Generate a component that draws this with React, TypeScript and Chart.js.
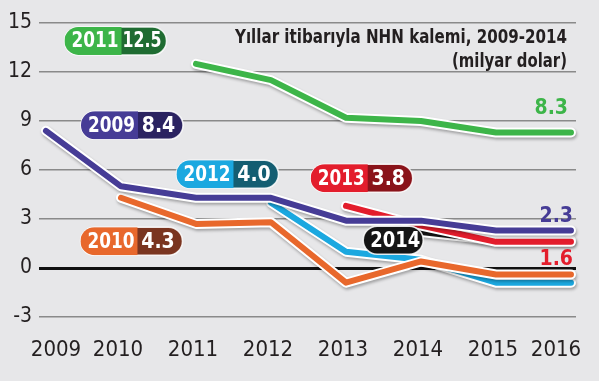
import React, { useEffect, useRef } from 'react';
import { Chart, registerables } from 'chart.js';

Chart.register(...registerables);

// ---------- data ----------
const categories = ['2009', '2010', '2011', '2012', '2013', '2014', '2015', '2016'];
const vintage2009 = [8.4, 5.0, 4.3, 4.3, 2.9, 2.9, 2.3, 2.3];
const vintage2010 = [null, 4.3, 2.7, 2.8, -0.9, 0.4, -0.4, -0.4];
const vintage2011 = [null, null, 12.5, 11.5, 9.2, 9.0, 8.3, 8.3];
const vintage2012 = [null, null, null, 4.0, 1.0, 0.5, -0.9, -0.9];
const vintage2013 = [null, null, null, null, 3.8, 2.6, 1.6, 1.6];
const vintage2014 = [null, null, null, null, null, 2.2, 1.7, 1.7];
const yTicks = [-3, 0, 3, 6, 9, 12, 15];
const titleLines = ['Yıllar itibarıyla NHN kalemi, 2009-2014', '(milyar dolar)'];

const NARROW = '"Liberation Sans Narrow", "DejaVu Sans Condensed", "Arial Narrow", sans-serif';

type Series = {
  name: string;
  data: (number | null)[];
  color: string;
  dark: string;
  order: number;
  badgeValue: string;
  badgeAt: [number, number]; // in data units (x index, y value)
  endLabel?: string;
  endOffset?: [number, number];
};

const series: Series[] = [
  { name: '2009', data: vintage2009, color: '#463c96', dark: '#2b2361', order: 0, badgeValue: '8.4', badgeAt: [1.147, 8.74], endLabel: '2.3', endOffset: [2, -8] },
  { name: '2013', data: vintage2013, color: '#e31d2c', dark: '#8a131a', order: 1, badgeValue: '3.8', badgeAt: [4.21, 5.5], endLabel: '1.6', endOffset: [2, 23] },
  { name: '2014', data: vintage2014, color: '#151515', dark: '#1c1c1c', order: 2, badgeValue: '', badgeAt: [4.63, 1.7] },
  { name: '2010', data: vintage2010, color: '#e8682c', dark: '#7a3520', order: 3, badgeValue: '4.3', badgeAt: [1.14, 1.64] },
  { name: '2012', data: vintage2012, color: '#1ba8e0', dark: '#145e72', order: 4, badgeValue: '4.0', badgeAt: [2.42, 5.74] },
  { name: '2011', data: vintage2011, color: '#3db549', dark: '#1f6c32', order: 5, badgeValue: '12.5', badgeAt: [0.927, 13.9], endLabel: '8.3', endOffset: [-3, -18] },
];

function pillPath(ctx: CanvasRenderingContext2D, x: number, y: number, w: number, h: number, r: number) {
  ctx.beginPath();
  ctx.moveTo(x + r, y);
  ctx.lineTo(x + w - r, y);
  ctx.arc(x + w - r, y + r, r, -Math.PI / 2, Math.PI / 2);
  ctx.lineTo(x + r, y + h);
  ctx.arc(x + r, y + r, r, Math.PI / 2, (3 * Math.PI) / 2);
  ctx.closePath();
}

const outlinePlugin = {
  id: 'whiteOutline',
  beforeDatasetDraw(chart: any, args: any) {
    const pts = args.meta.data;
    if (!pts || !pts.length) return;
    const ctx = chart.ctx as CanvasRenderingContext2D;
    ctx.save();
    ctx.beginPath();
    pts.forEach((p: any, i: number) => (i ? ctx.lineTo(p.x, p.y) : ctx.moveTo(p.x, p.y)));
    ctx.lineJoin = 'round';
    ctx.lineCap = 'round';
    ctx.strokeStyle = '#ffffff';
    ctx.lineWidth = 10;
    ctx.shadowColor = 'rgba(0,0,0,0.3)';
    ctx.shadowBlur = 3;
    ctx.shadowOffsetX = 1;
    ctx.shadowOffsetY = 2;
    ctx.stroke();
    ctx.restore();
  },
};

const decorPlugin = {
  id: 'decor',
  afterDraw(chart: any) {
    const ctx = chart.ctx as CanvasRenderingContext2D;
    const xs = chart.scales.x;
    const ys = chart.scales.y;
    const area = chart.chartArea;

    // x-axis labels
    ctx.save();
    ctx.font = `22px ${NARROW}`;
    ctx.fillStyle = '#231f20';
    ctx.textAlign = 'center';
    ctx.textBaseline = 'alphabetic';
    categories.forEach((c, i) => {
      let cx = xs.getPixelForValue(i) - 3;
      cx = Math.max(area.left + 17, Math.min(area.right - 20, cx));
      ctx.fillText(c, cx, 356);
    });
    ctx.restore();

    // title
    ctx.save();
    ctx.font = `bold 19px ${NARROW}`;
    ctx.fillStyle = '#231f20';
    ctx.textAlign = 'right';
    ctx.fillText(titleLines[0], 567, 43, 332);
    ctx.fillText(titleLines[1], 567, 67, 115);
    ctx.restore();

    // end labels
    chart.data.datasets.forEach((ds: any, di: number) => {
      const s = series[di];
      if (!s.endLabel) return;
      const meta = chart.getDatasetMeta(di);
      const last = meta.data[meta.data.length - 1];
      ctx.save();
      ctx.font = `bold 21px ${NARROW}`;
      ctx.fillStyle = s.color;
      ctx.textAlign = 'right';
      ctx.fillText(s.endLabel, last.x + s.endOffset![0], last.y + s.endOffset![1]);
      ctx.restore();
    });

    // badges
    series.forEach((s) => {
      const cx = xs.getPixelForValue(s.badgeAt[0]);
      const cy = ys.getPixelForValue(s.badgeAt[1]);
      const h = 28;
      const lw = s.badgeValue ? 57 : 60;
      const rw = s.badgeValue ? 45 : 0;
      const w = lw + rw;
      const x = cx - w / 2;
      const y = cy - h / 2;
      ctx.save();
      pillPath(ctx, x, y, w, h, h / 2);
      ctx.fillStyle = s.badgeValue ? s.dark : s.color;
      ctx.fill();
      ctx.lineWidth = 1.5;
      ctx.strokeStyle = 'rgba(255,255,255,0.85)';
      ctx.stroke();
      if (s.badgeValue) {
        ctx.save();
        pillPath(ctx, x, y, w, h, h / 2);
        ctx.clip();
        ctx.fillStyle = s.color;
        ctx.fillRect(x, y, lw, h);
        ctx.restore();
      }
      ctx.font = `bold 21px ${NARROW}`;
      ctx.fillStyle = '#ffffff';
      ctx.textAlign = 'center';
      ctx.textBaseline = 'middle';
      ctx.fillText(s.name, x + lw / 2 + 2, cy + 1, lw - 10);
      if (s.badgeValue) ctx.fillText(s.badgeValue, x + lw + rw / 2 - 2, cy + 1, rw - 6);
      ctx.restore();
    });
  },
};

export default function App() {
  const ref = useRef<HTMLCanvasElement | null>(null);

  useEffect(() => {
    if (!ref.current) return;
    const chart = new Chart(ref.current, {
      type: 'line',
      data: {
        datasets: series.map((s) => ({
          label: s.name,
          data: s.data
            .map((v, i) => (v === null ? null : { x: i, y: v }))
            .filter((p) => p !== null) as { x: number; y: number }[],
          borderColor: s.color,
          backgroundColor: s.color,
          borderWidth: 6,
          borderCapStyle: 'round',
          borderJoinStyle: 'round',
          pointRadius: 0,
          tension: 0,
          order: s.order,
          clip: false as any,
        })),
      },
      options: {
        animation: false,
        responsive: false,
        devicePixelRatio: 1,
        layout: { padding: { left: 0, right: 23, top: 23, bottom: 64 } },
        plugins: { legend: { display: false }, tooltip: { enabled: false } },
        scales: {
          x: { type: 'linear', min: -0.093, max: 7.067, display: false },
          y: {
            min: -3,
            max: 15,
            afterFit: (scale: any) => {
              scale.width = 39;
            },
            afterBuildTicks: (scale: any) => {
              scale.ticks = yTicks.map((v) => ({ value: v }));
            },
            border: { display: false },
            grid: {
              drawTicks: false,
              color: (c: any) => (c.tick && c.tick.value === 0 ? '#111111' : '#8a8a8a'),
              lineWidth: (c: any) => (c.tick && c.tick.value === 0 ? 3 : 1.5),
            },
            ticks: {
              padding: 7,
              color: '#231f20',
              font: { family: NARROW, size: 21 },
              callback: (v: any) => String(v),
            },
          },
        },
      },
      plugins: [outlinePlugin, decorPlugin],
    });
    return () => chart.destroy();
  }, []);

  return (
    <div style={{ position: 'absolute', left: 0, top: 0, width: 599, height: 381, background: '#e7e7e9' }}>
      <canvas ref={ref} width={599} height={381} style={{ display: 'block', width: 599, height: 381 }} />
    </div>
  );
}
